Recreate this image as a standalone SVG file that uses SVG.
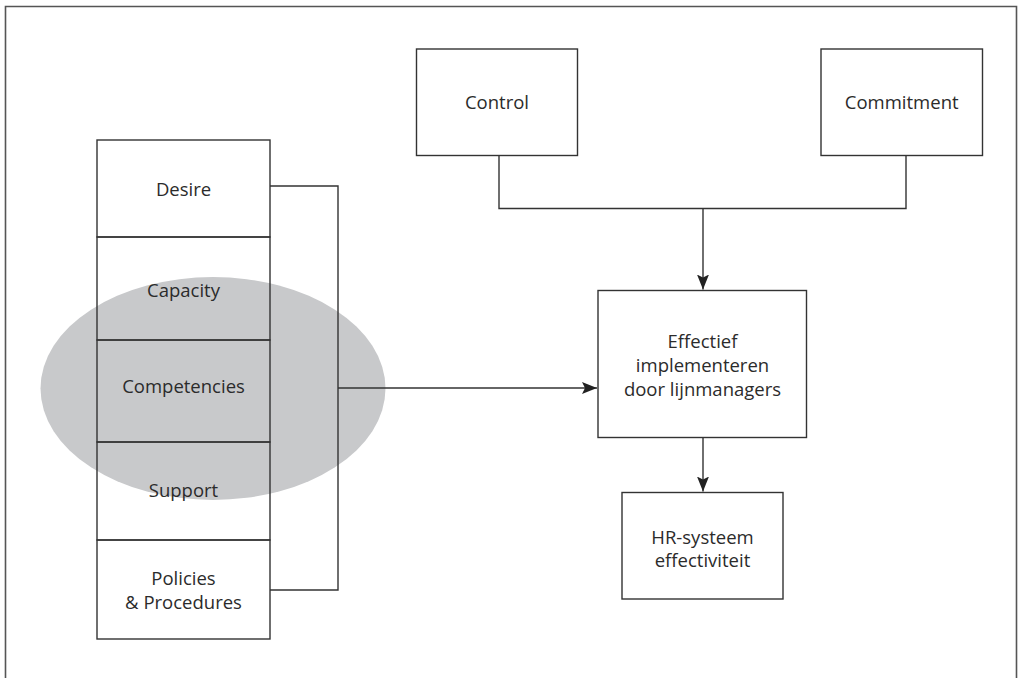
<svg xmlns="http://www.w3.org/2000/svg" width="1021" height="678" viewBox="0 0 1021 678">
<style>
.box{fill:none;stroke:#333;stroke-width:1.4}
.line{fill:none;stroke:#333;stroke-width:1.4}
.t{font-family:"Open Sans","Liberation Sans",sans-serif;font-size:18.5px;fill:#2b2b2b;text-anchor:middle;dominant-baseline:central}
</style>
<defs>
<marker id="arr" markerUnits="userSpaceOnUse" markerWidth="16" markerHeight="14" viewBox="0 0 16 14" refX="15" refY="7" orient="auto">
<path d="M0,1 L15,7 L0,13 L3,7 Z" fill="#222"/>
</marker>
</defs>
<rect width="1021" height="678" fill="#fff"/>
<path d="M5.5,680 V6.5 H1016.5 V680" fill="none" stroke="#555" stroke-width="1.6"/>
<ellipse id="highlight" cx="213" cy="388.5" rx="172.5" ry="111.5" fill="#c8c9cb"/>
<g id="connectors">
<path class="line" d="M270,186 H338 V590 H270"/>
<path class="line" d="M338,388 H597" marker-end="url(#arr)"/>
<path class="line" d="M499,155.5 V208.5 H906 V155.5"/>
<path class="line" d="M703,208.5 V289.5" marker-end="url(#arr)"/>
<path class="line" d="M703,438 V491.5" marker-end="url(#arr)"/>
</g>
<g id="desire"><rect class="box" x="97" y="140" width="173" height="97"/><text class="t" x="183.5" y="188">Desire</text></g>
<g id="capacity"><rect class="box" x="97" y="237" width="173" height="103"/><text class="t" x="183.5" y="289">Capacity</text></g>
<g id="competencies"><rect class="box" x="97" y="340" width="173" height="102"/><text class="t" x="183.5" y="385">Competencies</text></g>
<g id="support"><rect class="box" x="97" y="442" width="173" height="98"/><text class="t" x="183.5" y="489">Support</text></g>
<g id="policies"><rect class="box" x="97" y="540" width="173" height="99"/><text class="t" x="183.5" y="577">Policies</text><text class="t" x="183.5" y="601">&amp; Procedures</text></g>
<g id="control"><rect class="box" x="416.5" y="49" width="161" height="106.5"/><text class="t" x="497" y="101.5">Control</text></g>
<g id="commitment"><rect class="box" x="821" y="49" width="161.5" height="106.5"/><text class="t" x="901.7" y="101.5">Commitment</text></g>
<g id="effectief"><rect class="box" x="598" y="290.5" width="208.5" height="147"/><text class="t" x="702.5" y="340">Effectief</text><text class="t" x="702.5" y="364">implementeren</text><text class="t" x="702.5" y="388">door lijnmanagers</text></g>
<g id="hr"><rect class="box" x="622" y="492.5" width="161" height="106.5"/><text class="t" x="702.5" y="536">HR-systeem</text><text class="t" x="702.5" y="559.5">effectiviteit</text></g>
</svg>
